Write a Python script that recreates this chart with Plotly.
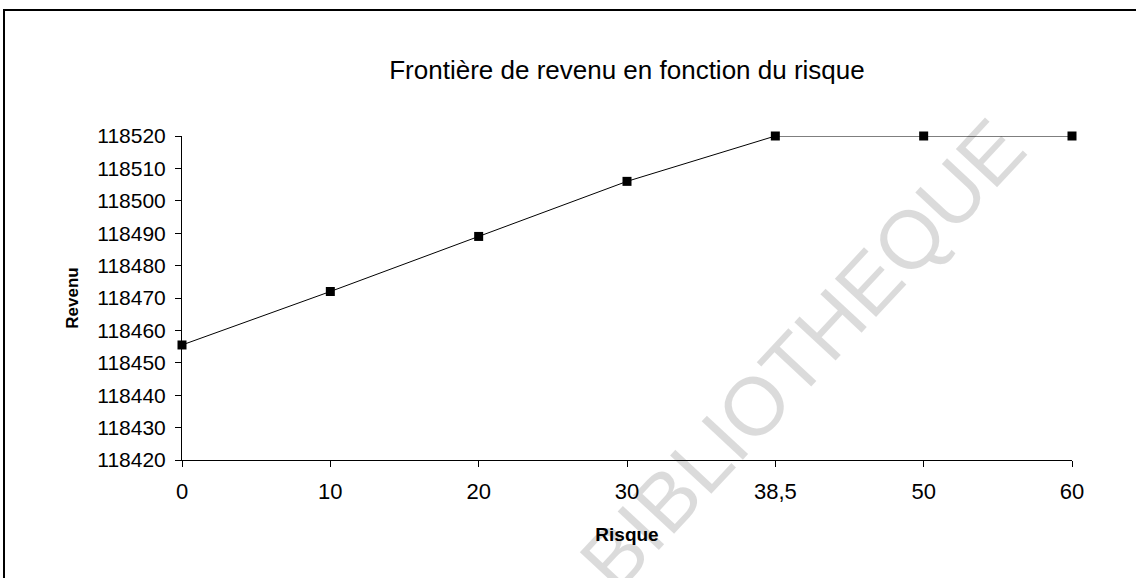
import plotly.graph_objects as go

risque_labels = ["0", "10", "20", "30", "38,5", "50", "60"]
revenu = [118455.5, 118472, 118489, 118506, 118520, 118520, 118520]
y_ticks = list(range(118420, 118521, 10))

x_idx = list(range(len(risque_labels)))
FONT = "Liberation Sans, Arial, sans-serif"

# plot area in window pixels
L, R, T, B = 182, 1072, 136, 460
PW, PH = R - L, B - T


def px(wx):
    return (wx - L) / PW


def py(wy):
    return (B - wy) / PH


fig = go.Figure()
fig.add_trace(go.Scatter(
    x=x_idx, y=revenu, mode="lines+markers",
    line=dict(color="black", width=1),
    marker=dict(symbol="square", size=9, color="black"),
    cliponaxis=False, showlegend=False,
))

fig.update_layout(
    width=1136, height=578,
    margin=dict(l=L, r=1136 - R, t=T, b=578 - B),
    paper_bgcolor="white", plot_bgcolor="white",
    title=dict(text="Frontière de revenu en fonction du risque",
               x=0.5, xref="paper", y=1 - 70 / 578, yanchor="middle",
               font=dict(family=FONT, size=26, color="black")),
    xaxis=dict(range=[0, 6], tickmode="array", tickvals=x_idx, ticktext=risque_labels,
               showgrid=False, zeroline=False, showline=True, linecolor="black", linewidth=1,
               ticks="outside", ticklen=6, tickcolor="black", ticklabelstandoff=6,
               tickfont=dict(family=FONT, size=22, color="black"),
               title=dict(text="<b>Risque</b>", font=dict(family=FONT, size=19, color="black"), standoff=24)),
    yaxis=dict(range=[118420, 118520], tickmode="array", tickvals=y_ticks,
               ticktext=[str(v) for v in y_ticks],
               showgrid=False, zeroline=False, showline=True, linecolor="black", linewidth=1,
               ticks="outside", ticklen=6, tickcolor="black", ticklabelstandoff=5,
               tickfont=dict(family=FONT, size=21, color="black"),
               title=dict(text="<b>Revenu</b>", font=dict(family=FONT, size=17, color="black"), standoff=14)),
    shapes=[dict(type="rect", xref="paper", yref="paper",
                 x0=px(4), x1=px(1145), y0=py(600), y1=py(10),
                 line=dict(color="black", width=2), fillcolor="rgba(0,0,0,0)", layer="below")],
    annotations=[dict(text="BIBLIOTHEQUE", xref="paper", yref="paper",
                      x=px(802), y=py(354), xanchor="center", yanchor="middle", showarrow=False,
                      textangle=-47, font=dict(family=FONT, size=82, color="rgba(0,0,0,0.14)"))],
)

fig.write_html("out.html", config={"displayModeBar": False},
               post_script="document.body.style.margin='0';")
